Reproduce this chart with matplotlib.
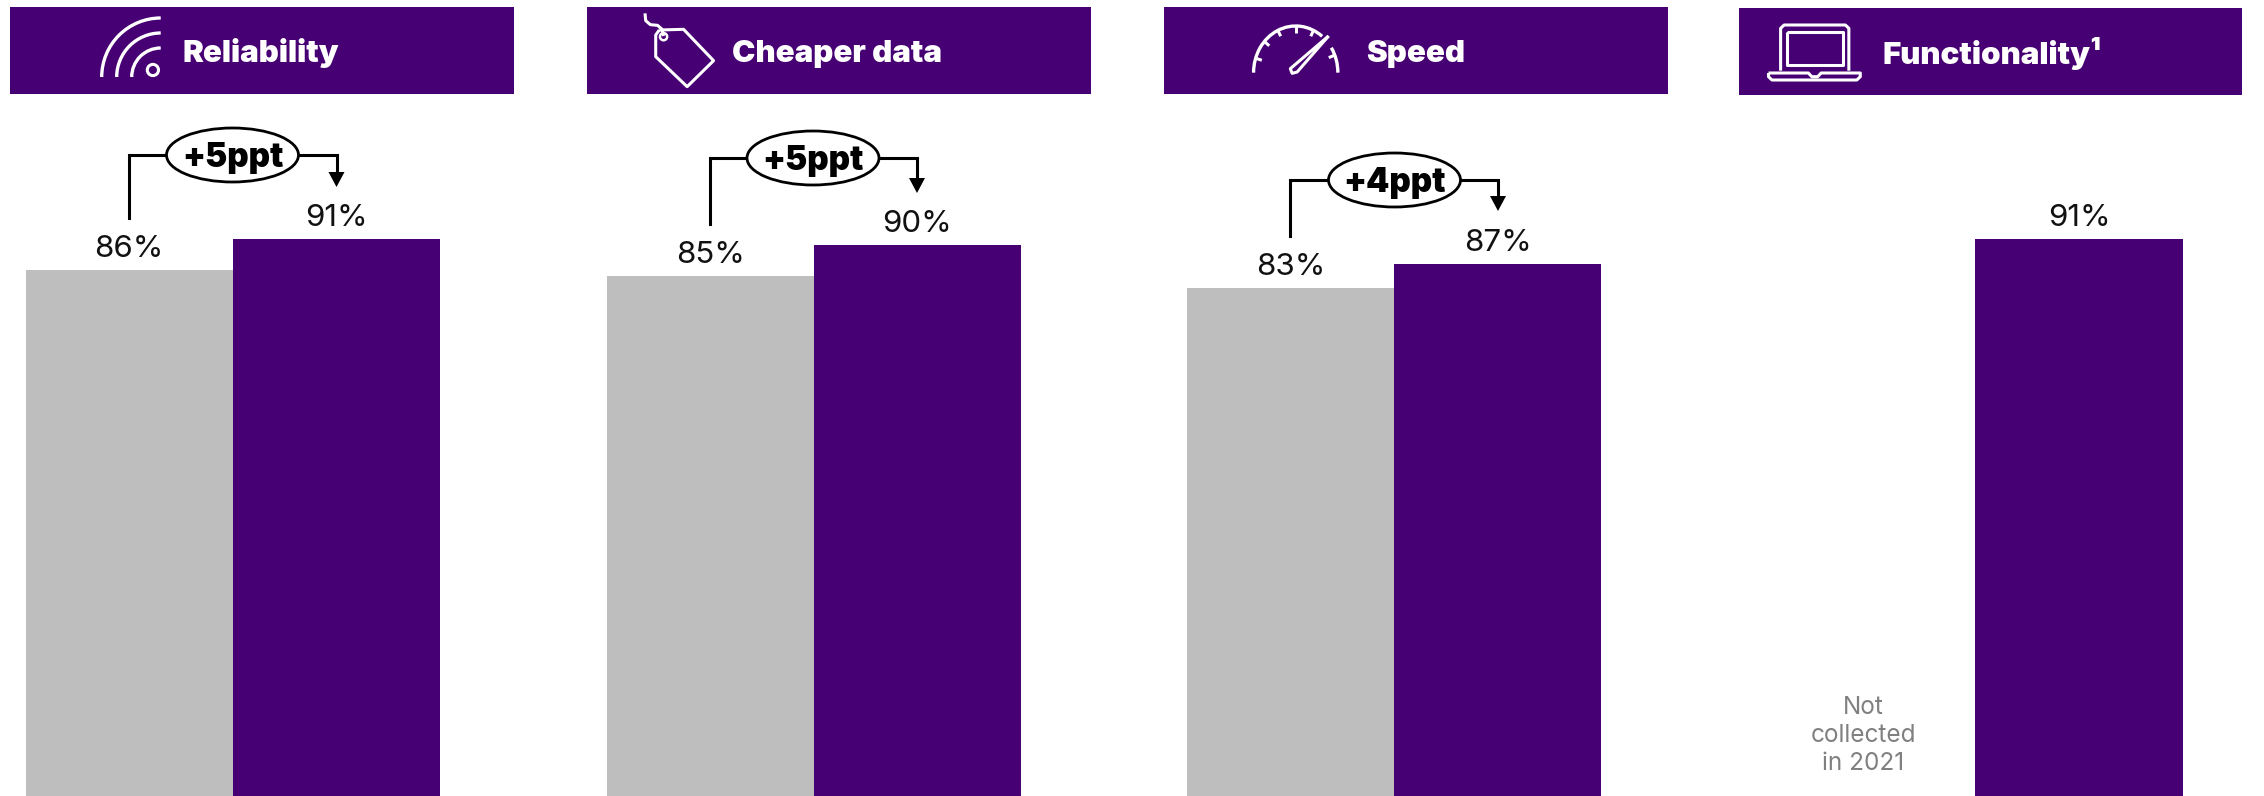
import numpy as np
import matplotlib
matplotlib.use("Agg")
import matplotlib.pyplot as plt
from matplotlib.patches import Rectangle, Ellipse, Circle, Polygon, Arc

categories = ["Reliability", "Cheaper data", "Speed", "Functionality\u00b9"]
prior_values = [86, 85, 83, None]
latest_values = [91, 90, 87, 91]
change_labels = ["+5ppt", "+5ppt", "+4ppt", None]
missing_note = "Not\ncollected\nin 2021"

PURPLE = "#460073"
GRAY = "#BEBEBE"
W, H = 2264, 796
PX_PER_PCT = 6.12

header_boxes = [(10, 7, 514, 94), (587, 7, 1091, 94), (1164, 7, 1668, 94), (1739, 8, 2242, 95)]
header_text = [(182, 62), (732.5, 62), (1366, 62), (1882, 64)]
bar_spans = [(25.7, 440), (606.5, 1021), (1187, 1601), (1767, 2183)]
brackets = [(129, 336.5, 155, 218, 187, 232.5), (709.5, 917, 158, 224, 193, 813), (1290, 1498, 180, 236, 211, 1394.5)]

fig = plt.figure(figsize=(W / 100, H / 100), dpi=100, facecolor="white")

for i, (x0, x1) in enumerate(bar_spans):
    ax = fig.add_axes([x0 / W, 0, (x1 - x0) / W, 1])
    ax.set_xlim(-0.5, 1.5)
    ax.set_ylim(0, H / PX_PER_PCT)
    ax.axis("off")
    for x, v, c in [(0, prior_values[i], GRAY), (1, latest_values[i], PURPLE)]:
        if v is None:
            continue
        ax.bar(x, v, width=1.0, color=c, linewidth=0)
        ax.annotate(f"{v}%", (x, v), xytext=(0, 9.4), textcoords="offset points",
                    ha="center", va="baseline", fontsize=22.5, color="#111111",
                    family="Inter", fontweight="normal")

ov = fig.add_axes([0, 0, 1, 1], zorder=5)
ov.set_xlim(0, W)
ov.set_ylim(H, 0)
ov.axis("off")
ov.patch.set_alpha(0)

for (x0, y0, x1, y1), (tx, ty), name in zip(header_boxes, header_text, categories):
    ov.add_patch(Rectangle((x0, y0), x1 - x0, y1 - y0, color=PURPLE, lw=0))
    ov.text(tx, ty, name, color="white", fontsize=22.5, family="Inter", fontweight=900,
            ha="left", va="baseline")

for (xl, xr, yt, yb, tip, xc), lab in zip(brackets, change_labels):
    ov.plot([xl, xl, xc], [yb, yt, yt], color="black", lw=2.2, solid_joinstyle="miter")
    ov.plot([xc, xr, xr], [yt, yt, tip - 12], color="black", lw=2.2, solid_joinstyle="miter")
    ov.add_patch(Polygon([(xr - 8, tip - 15), (xr + 8, tip - 15), (xr, tip)], color="black", lw=0))
    ov.add_patch(Ellipse((xc, yt), 132, 54, fc="white", ec="black", lw=2, zorder=3))
    ov.text(xc, yt + 12, lab, fontsize=24, family="Inter", fontweight="black",
            ha="center", va="baseline", color="black", zorder=4)

ov.text(1863, 770, missing_note, fontsize=17.5, color="#808080", family="Inter",
        fontweight="normal", ha="center", va="baseline", linespacing=1.27)

WL = dict(color="white", lw=2.2, solid_capstyle="butt")
k = 2.8
# wifi icon
for r in [59, 44, 29]:
    ov.add_patch(Arc((160.7, 77), 2 * r, 2 * r, theta1=180, theta2=270, color="white", lw=2.4))
ov.add_patch(Circle((152.9, 70), 5.6, fc="none", ec="white", lw=2.2))
# tag icon
ox = 570
tag = np.array([(250, 90), (318, 88), (402, 182), (328, 260), (240, 170), (240, 105), (250, 90)], float)
ov.plot(ox + tag[:, 0] / k, tag[:, 1] / 3, solid_joinstyle="round", **WL)
ov.add_patch(Circle((ox + 262 / k, 110 / 3), 3.6, fc="none", ec="white", lw=1.8))
st = np.array([(210, 40), (212, 62), (225, 74), (245, 76), (258, 88), (262, 108)], float)
ov.plot(ox + st[:, 0] / k, st[:, 1] / 3, **WL)
# gauge icon
ox = 1150
cx, cy = ox + 408 / k, 218 / 3
rx, ry = 118 / k, 140 / 3
ov.add_patch(Arc((cx, cy), 2 * rx, 2 * ry, theta1=180, theta2=306, color="white", lw=2.4))
ov.add_patch(Arc((cx, cy), 2 * rx, 2 * ry, theta1=325, theta2=360, color="white", lw=2.4))
for a in [162, 138, 115, 90, 65, 22]:
    t = np.deg2rad(a)
    ov.plot([cx + rx * np.cos(t), cx + (rx - 6.5) * np.cos(t)],
            [cy - ry * np.sin(t), cy - (ry - 6.5) * np.sin(t)], **WL)
nd = np.array([(500, 108), (412, 216), (398, 220), (393, 206), (500, 108)], float)
ov.plot(ox + nd[:, 0] / k, nd[:, 1] / 3, solid_joinstyle="round", **WL)
# laptop icon
ox, k4 = 1720, 2.887
sc = np.array([(175, 212), (175, 85), (185, 75), (362, 75), (372, 85), (372, 212)], float)
ov.plot(ox + sc[:, 0] / k4, sc[:, 1] / 3, **WL)
inn = np.array([(192, 97), (355, 97), (355, 194), (192, 194), (192, 97)], float)
ov.plot(ox + inn[:, 0] / k4, inn[:, 1] / 3, **WL)
base = np.array([(140, 219), (255, 219), (265, 230), (282, 230), (292, 219), (405, 219),
                 (405, 230), (395, 240), (150, 240), (140, 230), (140, 219)], float)
ov.plot(ox + base[:, 0] / k4, base[:, 1] / 3, **WL)

fig.savefig("out.png", dpi=100, facecolor="white")
